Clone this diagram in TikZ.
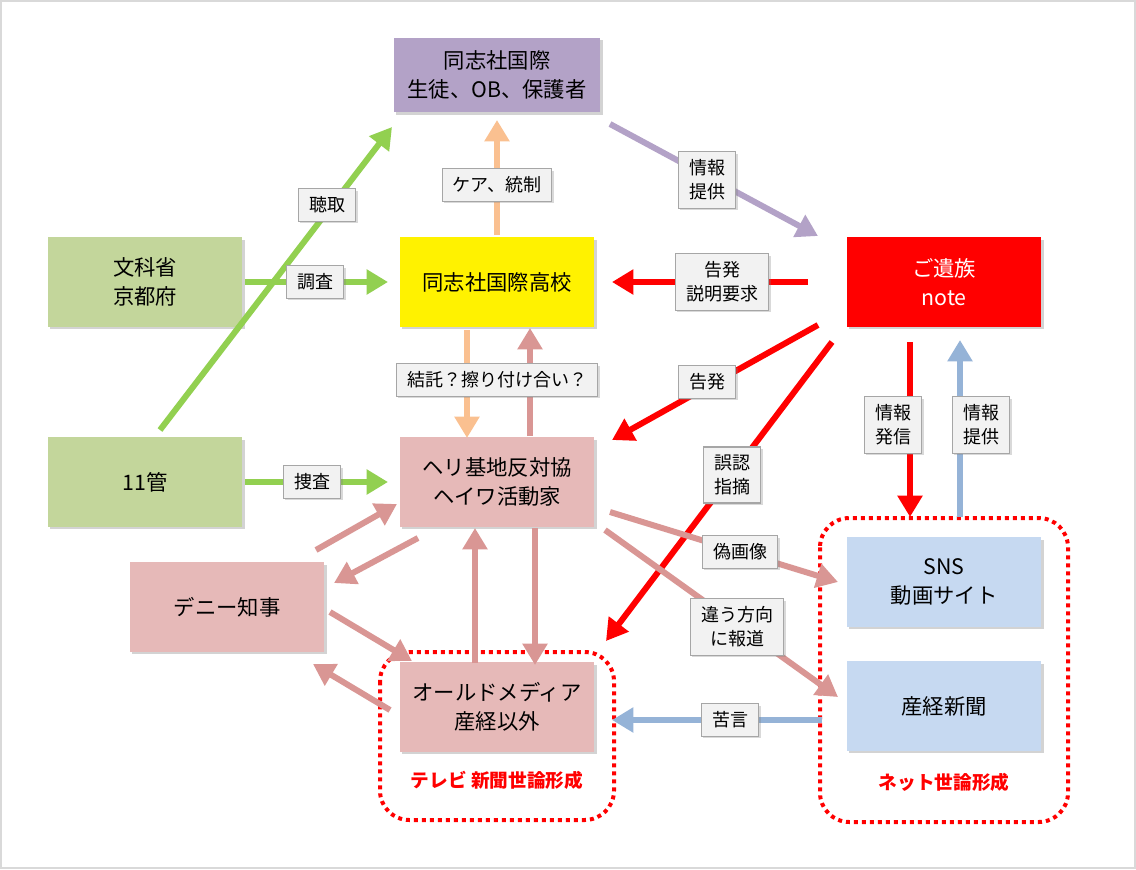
\documentclass[tikz,border=0pt]{standalone}
\usepackage{fontspec}
\setmainfont{Noto Sans CJK JP}
\usetikzlibrary{arrows.meta,shadows,positioning}
\definecolor{boxgreen}{HTML}{C3D69B}
\definecolor{boxpurple}{HTML}{B3A2C7}
\definecolor{boxpink}{HTML}{E6B9B8}
\definecolor{boxblue}{HTML}{C6D9F1}
\definecolor{arrgreen}{HTML}{92D050}
\definecolor{arrpeach}{HTML}{FAC090}
\definecolor{arrpink}{HTML}{D99694}
\definecolor{arrblue}{HTML}{95B3D7}
\definecolor{arrpurple}{HTML}{B3A2C7}
\tikzset{
  box/.style={minimum width=146pt,minimum height=67pt,inner sep=0pt,
    text width=140pt,align=center,font=\fontsize{16}{22}\selectfont,
    drop shadow={shadow xshift=2pt,shadow yshift=-2pt,opacity=.35}},
  lbl/.style={draw=gray!70,fill=gray!10,line width=1pt,align=center,
    font=\fontsize{13.5}{18}\selectfont,inner xsep=8pt,inner ysep=6pt,
    drop shadow={shadow xshift=1.5pt,shadow yshift=-1.5pt,opacity=.3}},
  arr/.style={line width=4.5pt,-{Triangle[width=18pt,length=16pt]}},
  zone/.style={draw=red,line width=3pt,dash pattern=on 3pt off 3pt,rounded corners=22pt},
}
\begin{document}
\begin{tikzpicture}[x=0.75pt,y=-0.75pt]
  \draw[gray!30,line width=1pt] (1,1) rectangle (1135,868);
  \useasboundingbox (0,0) rectangle (1136,869);

  % zones
  \draw[zone] (380,652) rectangle (614,820);
  \draw[zone] (820,518) rectangle (1068,822);
  \node[red,font=\bfseries\fontsize{14}{16}\selectfont] (tvlabel) at (497,780) {テレビ 新聞世論形成};
  \node[red,font=\bfseries\fontsize{14}{16}\selectfont] (netlabel) at (944,782) {ネット世論形成};

  % boxes
  \node[box,fill=boxpurple,minimum width=155pt,minimum height=56pt] (school) at (497,75) {同志社国際\\生徒、OB、保護者};
  \node[box,fill=boxgreen] (mext) at (145,282) {文科省\\京都府};
  \node[box,fill=yellow] (high) at (497,282) {同志社国際高校};
  \node[box,fill=red,text=white] (family) at (944,282) {ご遺族\\note};
  \node[box,fill=boxgreen] (coast) at (145,482) {11管};
  \node[box,fill=boxpink] (heli) at (497,482) {ヘリ基地反対協\\ヘイワ活動家};
  \node[box,fill=boxpink] (denny) at (227,607) {デニー知事};
  \node[box,fill=boxpink] (media) at (497,707) {オールドメディア\\産経以外};
  \node[box,fill=boxblue] (sns) at (944,582) {SNS\\動画サイト};
  \node[box,fill=boxblue] (sankei) at (944,706) {産経新聞};

  % arrow ends
  \coordinate (a1) at (160,430);  \coordinate (b1) at (392,127);
  \coordinate (a2) at (245,282);  \coordinate (b2) at (388,282);
  \coordinate (a3) at (245,482);  \coordinate (b3) at (388,482);
  \coordinate (a4) at (497,235);  \coordinate (b4) at (497,120);
  \coordinate (a5) at (610,124);  \coordinate (b5) at (818,236);
  \coordinate (a6) at (808,282);  \coordinate (b6) at (612,282);
  \coordinate (a7) at (467,330);  \coordinate (b7) at (467,438);
  \coordinate (a8) at (530,436);  \coordinate (b8) at (530,328);
  \coordinate (a9) at (818,325);  \coordinate (b9) at (612,440);
  \coordinate (a10) at (832,342); \coordinate (b10) at (606,641);
  \coordinate (a11) at (910,342); \coordinate (b11) at (910,517);
  \coordinate (a12) at (960,517); \coordinate (b12) at (960,340);
  \coordinate (a13) at (610,512); \coordinate (b13) at (838,582);
  \coordinate (a14) at (605,530); \coordinate (b14) at (838,697);
  \coordinate (a15) at (316,550); \coordinate (b15) at (397,504);
  \coordinate (a16) at (418,538); \coordinate (b16) at (334,583);
  \coordinate (a17) at (330,612); \coordinate (b17) at (412,661);
  \coordinate (a18) at (390,710); \coordinate (b18) at (313,664);
  \coordinate (a19) at (475,663); \coordinate (b19) at (475,528);
  \coordinate (a20) at (535,528); \coordinate (b20) at (535,665);
  \coordinate (a21) at (822,720); \coordinate (b21) at (612,720);

  \draw[arr,arrgreen] (a1) -- (b1);
  \draw[arr,arrgreen] (a2) -- (b2);
  \draw[arr,arrgreen] (a3) -- (b3);
  \draw[arr,arrpeach] (a4) -- (b4);
  \draw[arr,arrpurple] (a5) -- (b5);
  \draw[arr,red] (a6) -- (b6);
  \draw[arr,arrpeach] (a7) -- (b7);
  \draw[arr,arrpink] (a8) -- (b8);
  \draw[arr,red] (a9) -- (b9);
  \draw[arr,red] (a10) -- (b10);
  \draw[arr,red] (a11) -- (b11);
  \draw[arr,arrblue] (a12) -- (b12);
  \draw[arr,arrpink] (a13) -- (b13);
  \draw[arr,arrpink] (a14) -- (b14);
  \draw[arr,arrpink] (a15) -- (b15);
  \draw[arr,arrpink] (a16) -- (b16);
  \draw[arr,arrpink] (a17) -- (b17);
  \draw[arr,arrpink] (a18) -- (b18);
  \draw[arr,arrpink] (a19) -- (b19);
  \draw[arr,arrpink] (a20) -- (b20);
  \draw[arr,arrblue] (a21) -- (b21);

  % labels
  \node[lbl] (hear) at (327,205) {聴取};
  \node[lbl] (survey) at (315,282) {調査};
  \node[lbl] (search) at (312,482) {捜査};
  \node[lbl] (care) at (497,185) {ケア、統制};
  \node[lbl] (info1) at (707,180) {情報\\提供};
  \node[lbl] (accuse1) at (722,282) {告発\\説明要求};
  \node[lbl] (collude) at (497,380) {結託？擦り付け合い？};
  \node[lbl] (accuse2) at (707,382) {告発};
  \node[lbl] (error) at (732,475) {誤認\\指摘};
  \node[lbl] (post) at (893,425) {情報\\発信};
  \node[lbl] (info2) at (981,425) {情報\\提供};
  \node[lbl] (fake) at (740,552) {偽画像};
  \node[lbl] (report) at (737,627) {違う方向\\に報道};
  \node[lbl] (complain) at (730,720) {苦言};
\end{tikzpicture}
\end{document}
